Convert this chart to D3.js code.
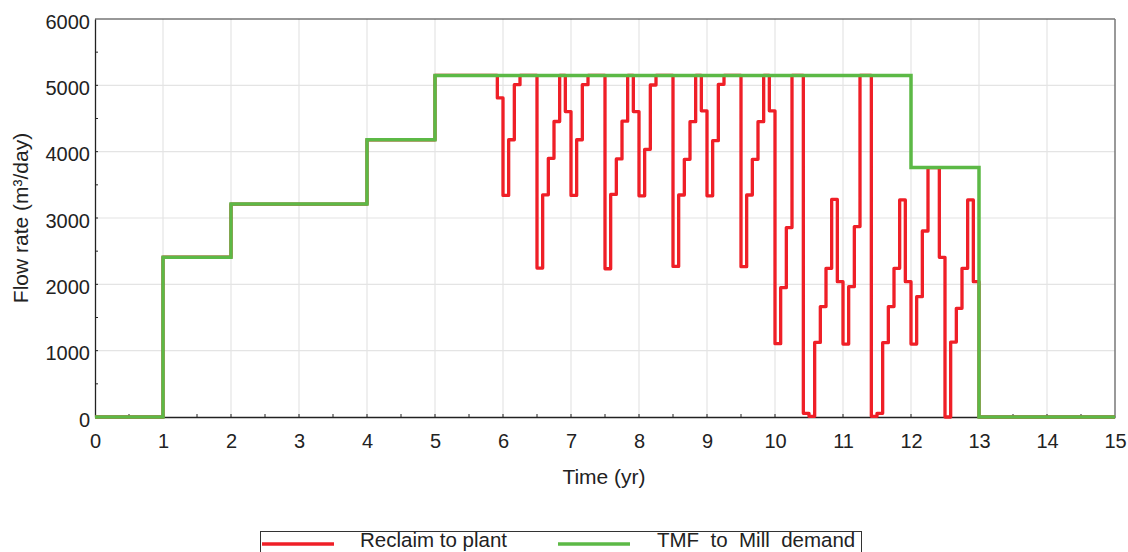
<!DOCTYPE html>
<html>
<head>
<meta charset="utf-8">
<script src="https://cdn.jsdelivr.net/npm/d3@7"></script>
<style>
    body { margin: 0; background: #fff; }
    #chart { width: 1128px; height: 552px; }
    text { font-family: "Liberation Sans", Arial, sans-serif; fill: #222; }
</style>
</head>
<body>
<div id="chart"></div>
<script>

// TMF to Mill demand: step changes (time in years)
const greenTime = [0, 1, 2, 4, 5, 12, 13, 15];
const greenFlow = [0, 2410, 3210, 4180, 5150, 3760, 0, 0];

// Reclaim to plant: step changes, time in months
const redMonth = [0, 12, 24, 48, 60,
    71,
    72, 73, 74, 75, 76, 77, 78, 79, 80, 81, 82, 83,
    84, 85, 86, 87, 88, 89, 90, 91, 92, 93, 94, 95,
    96, 97, 98, 99, 100, 101, 102, 103, 104, 105, 106, 107,
    108, 109, 110, 111, 112, 113, 114, 115, 116, 117, 118, 119,
    120, 121, 122, 123, 124, 125, 126, 127, 128, 129, 130, 131,
    132, 133, 134, 135, 136, 137, 138, 139, 140, 141, 142, 143,
    144, 145, 146, 147, 148, 149, 150, 151, 152, 153, 154, 155,
    156, 180];
const redFlow = [0, 2410, 3210, 4180, 5150,
    4810,
    3340, 4180, 5010, 5150, 5150, 5150, 2245, 3350, 3900, 4455, 5150, 4605,
    3340, 4180, 5010, 5150, 5150, 5150, 2235, 3355, 3890, 4460, 5150, 4605,
    3335, 4035, 5005, 5150, 5150, 5150, 2270, 3347, 3885, 4452, 5150, 4615,
    3335, 4166, 5015, 5150, 5150, 5150, 2266, 3347, 3885, 4452, 5150, 4615,
    1105, 1950, 2855, 5150, 5150, 55, 10, 1125, 1665, 2242, 3280, 2040,
    1100, 1965, 2870, 5150, 5150, 10, 55, 1120, 1665, 2242, 3272, 2040,
    1100, 1814, 2804, 3760, 3760, 2407, 0, 1130, 1638, 2242, 3272, 2040,
    0, 0];

const xTicks = [0, 1, 2, 3, 4, 5, 6, 7, 8, 9, 10, 11, 12, 13, 14, 15];
const yTicks = [0, 1000, 2000, 3000, 4000, 5000, 6000];

const seriesNames = ["Reclaim to plant", "TMF  to  Mill  demand"];
const seriesColors = ["#ef1f27", "#5cb946"];

const width = 1128;
const height = 552;

const margin = {
    top: 19,
    left: 95,
    right: 13,
    bottom: 135
};

const svg = d3.select("#chart")
    .append("svg")
    .attr("width", width)
    .attr("height", height);

const xScale = d3.scaleLinear()
    .domain([0, 15])
    .range([margin.left, width - margin.right]);

const yScale = d3.scaleLinear()
    .domain([0, 6000])
    .range([height - margin.bottom, margin.top]);

// grid
svg.append("g")
    .selectAll("line")
    .data(xTicks.slice(1, -1))
    .enter()
    .append("line")
        .attr("x1", function(d) { return xScale(d); })
        .attr("x2", function(d) { return xScale(d); })
        .attr("y1", margin.top)
        .attr("y2", height - margin.bottom)
        .attr("stroke", "#e4e4e4")
        .attr("stroke-width", 1.2);

svg.append("g")
    .selectAll("line")
    .data(yTicks.slice(1, -1))
    .enter()
    .append("line")
        .attr("x1", margin.left)
        .attr("x2", width - margin.right)
        .attr("y1", function(d) { return yScale(d); })
        .attr("y2", function(d) { return yScale(d); })
        .attr("stroke", "#e4e4e4")
        .attr("stroke-width", 1.2);

// frame top and right
svg.append("line")
    .attr("x1", margin.left).attr("x2", width - margin.right)
    .attr("y1", margin.top).attr("y2", margin.top)
    .attr("stroke", "#333").attr("stroke-width", 1.2);
svg.append("line")
    .attr("x1", width - margin.right).attr("x2", width - margin.right)
    .attr("y1", margin.top).attr("y2", height - margin.bottom)
    .attr("stroke", "#777").attr("stroke-width", 1.5);

// axes
const xAxis = svg.append("g")
    .attr("transform", `translate(0,${height - margin.bottom})`)
    .call(d3.axisBottom(xScale).tickValues(xTicks).tickSize(0).tickPadding(17).tickFormat(d3.format("d")));

const yAxis = svg.append("g")
    .attr("transform", `translate(${margin.left},0)`)
    .call(d3.axisLeft(yScale).tickValues(yTicks).tickSize(0).tickPadding(5).tickFormat(d3.format("d")));

[xAxis, yAxis].forEach(function(a) {
    a.select(".domain").attr("stroke", "#222").attr("stroke-width", 1.3);
    a.selectAll("text").attr("font-size", 20).attr("fill", "#222")
        .attr("font-family", "Liberation Sans, Arial, sans-serif");
});
yAxis.selectAll("text").attr("dy", "0.45em");

// minor inner ticks
svg.append("g")
    .selectAll("line")
    .data(d3.range(0.5, 15, 0.5))
    .enter()
    .append("line")
        .attr("x1", function(d) { return xScale(d); })
        .attr("x2", function(d) { return xScale(d); })
        .attr("y1", height - margin.bottom)
        .attr("y2", height - margin.bottom - 3)
        .attr("stroke", "#222");

svg.append("g")
    .selectAll("line")
    .data(d3.range(500, 6000, 500))
    .enter()
    .append("line")
        .attr("x1", margin.left)
        .attr("x2", margin.left + 3)
        .attr("y1", function(d) { return yScale(d); })
        .attr("y2", function(d) { return yScale(d); })
        .attr("stroke", "#222");

// lines
const redData = redMonth.map(function(m, i) { return { t: m / 12, v: redFlow[i] }; });
const greenData = greenTime.map(function(t, i) { return { t: t, v: greenFlow[i] }; });

const line = d3.line()
    .x(function(d) { return xScale(d.t); })
    .y(function(d) { return yScale(d.v); })
    .curve(d3.curveStepAfter);

svg.append("path")
    .datum(redData)
    .attr("d", line)
    .attr("fill", "none")
    .attr("stroke", seriesColors[0])
    .attr("stroke-width", 3.3)
    .attr("stroke-linejoin", "round");

svg.append("path")
    .datum(greenData)
    .attr("d", line)
    .attr("fill", "none")
    .attr("stroke", seriesColors[1])
    .attr("stroke-width", 3.5);

// axis labels
svg.append("text")
    .attr("x", 604)
    .attr("y", 484)
    .attr("text-anchor", "middle")
    .attr("font-size", 21)
    .text("Time (yr)");

svg.append("text")
    .attr("transform", "rotate(-90)")
    .attr("x", -218)
    .attr("y", 28)
    .attr("text-anchor", "middle")
    .attr("font-size", 21)
    .text("Flow rate (m³/day)");

// legend
svg.append("rect")
    .attr("x", 260.5)
    .attr("y", 531.5)
    .attr("width", 601)
    .attr("height", 40)
    .attr("fill", "none")
    .attr("stroke", "#333")
    .attr("stroke-width", 1);

const legendX = [262, 558];
const legendTextX = [360, 657];

seriesNames.forEach(function(name, i) {
    svg.append("line")
        .attr("x1", legendX[i])
        .attr("x2", legendX[i] + 72)
        .attr("y1", 544)
        .attr("y2", 544)
        .attr("stroke", seriesColors[i])
        .attr("stroke-width", 3.5);
    svg.append("text")
        .attr("x", legendTextX[i])
        .attr("y", 547)
        .attr("font-size", 20.5)
        .style("white-space", "pre")
        .text(name);
});

</script>
</body>
</html>
